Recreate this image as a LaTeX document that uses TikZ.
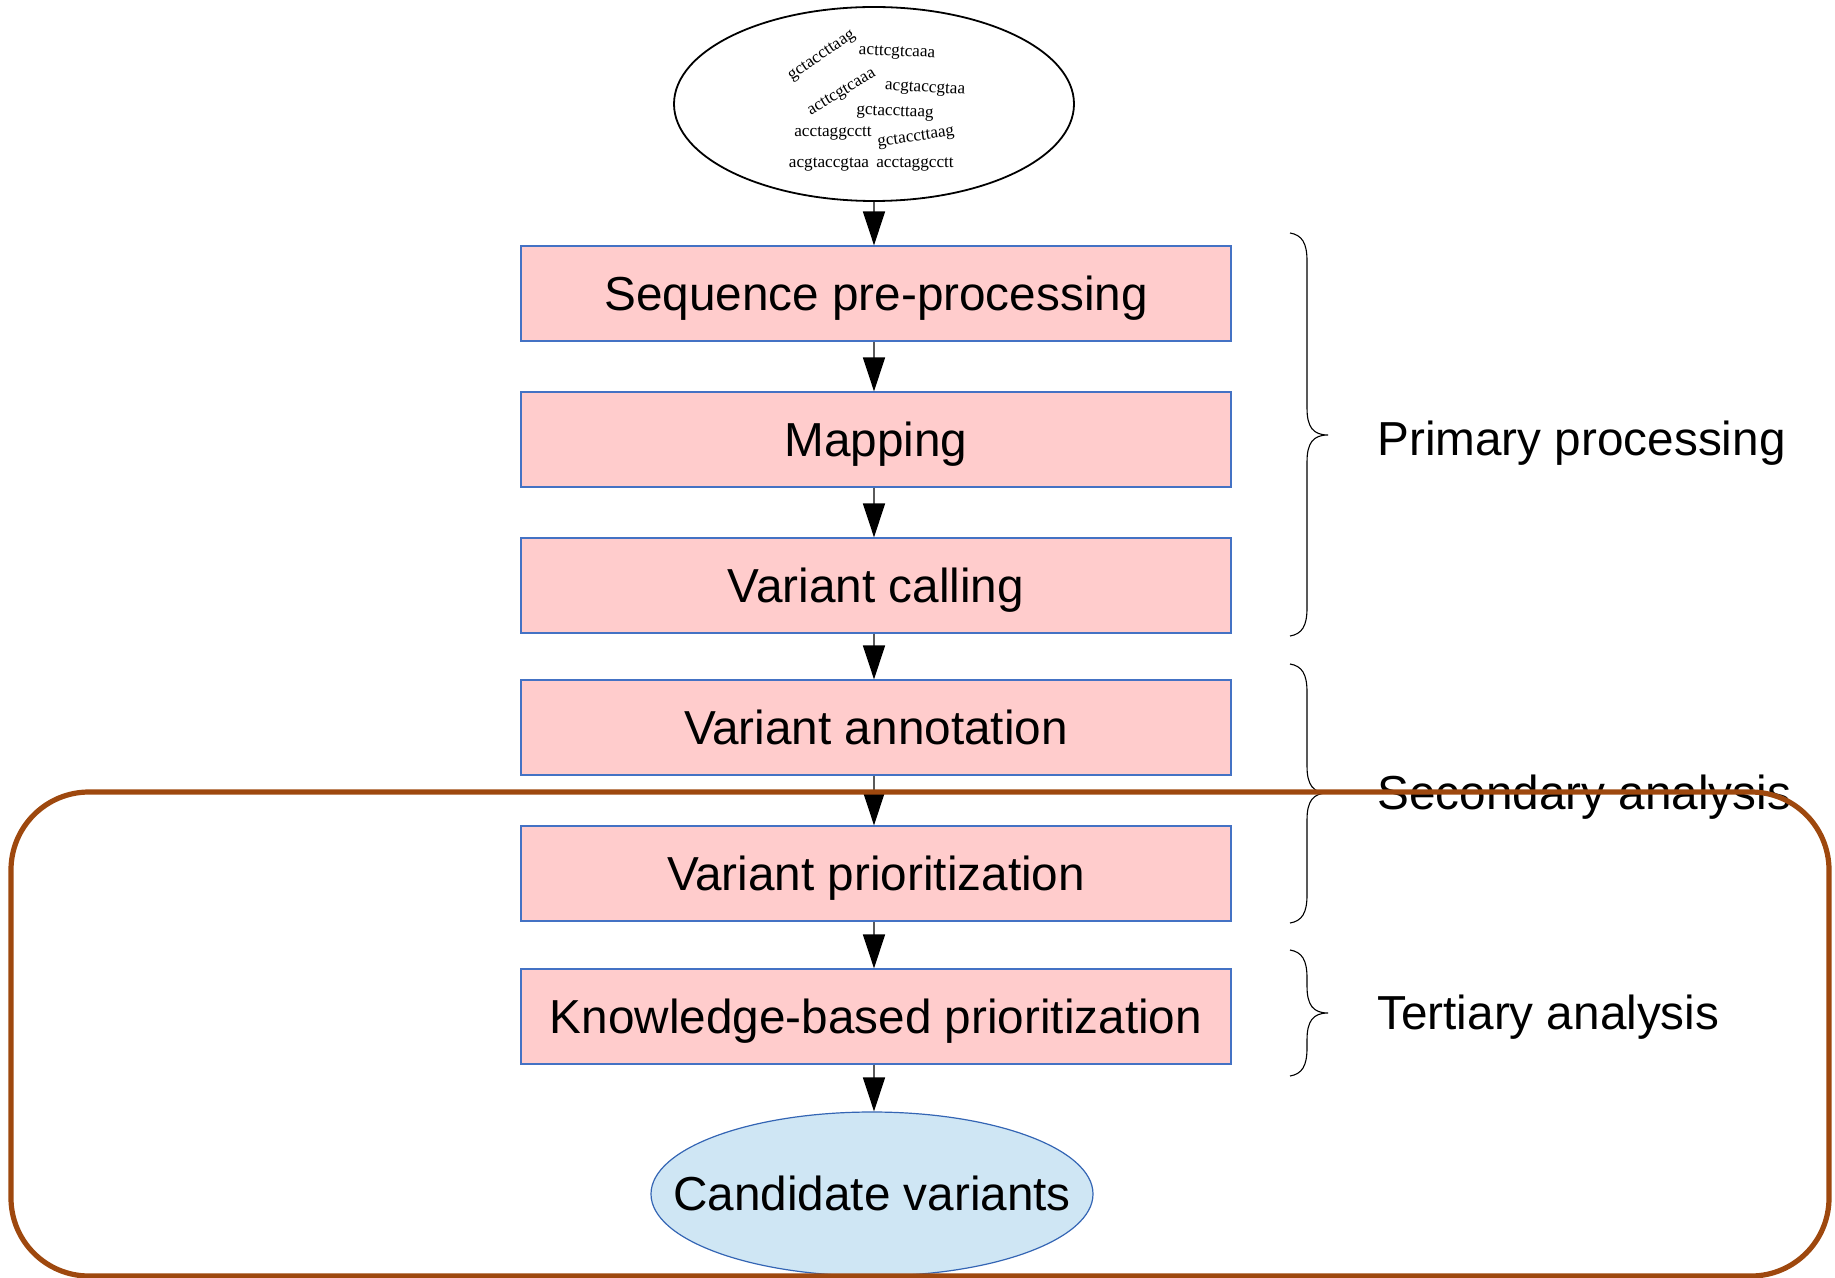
\documentclass[tikz,border=0pt]{standalone}
\usepackage{fontspec}
\setmainfont{Liberation Sans}
\newfontfamily\readfont{Liberation Serif}
\usetikzlibrary{arrows.meta,shapes.geometric}

\definecolor{boxfill}{RGB}{255,204,204}
\definecolor{boxline}{RGB}{68,114,196}
\definecolor{candfill}{RGB}{207,230,244}
\definecolor{candline}{RGB}{52,101,180}
\definecolor{frameline}{RGB}{158,72,14}
\definecolor{arrowline}{RGB}{90,90,90}

% right-pointing curly brace: top y, tip y, bottom y
\newcommand\sidebrace[3]{%
  \draw[bracestyle] (1290,#1) .. controls (1302,{#1+2}) and (1307,{#1+10}) .. (1307,{#1+28})
    -- (1307,{#2-27}) .. controls (1307,{#2-8}) and (1313,#2) .. (1328,#2)
    .. controls (1313,#2) and (1307,{#2+8}) .. (1307,{#2+27})
    -- (1307,{#3-28}) .. controls (1307,{#3-10}) and (1302,{#3-2}) .. (1290,#3);}

\begin{document}
\begin{tikzpicture}[x=0.5pt,y=-0.5pt,
  bigtext/.style={font=\fontsize{23.85}{28}\selectfont, text height=21.6pt, text depth=5.06pt},
  stepbox/.style={rectangle, draw=boxline, line width=0.6pt, fill=boxfill,
    minimum width=355pt, minimum height=47.5pt, inner sep=0pt, bigtext},
  flow/.style={draw=arrowline, line width=0.8pt, -{Triangle[width=11pt,length=17pt,color=black]}},
  bracestyle/.style={draw=black, line width=0.55pt},
  phase/.style={anchor=base west, inner sep=0pt, font=\fontsize{23.85}{28}\selectfont},
  read/.style={inner sep=0pt, font=\readfont\fontsize{8.6}{9}\selectfont, text=black}]

\useasboundingbox (0,0) rectangle (1835,1278);

% axis of the flow
\coordinate (ax) at (874,0);

% input reads
\node[ellipse, draw=black, line width=0.9pt, minimum width=200pt, minimum height=97pt, inner sep=0pt] (reads) at (874,104) {};
\node[read, rotate=34] (r1) at (822,56) {gctaccttaag};
\node[read, rotate=-2] (r2) at (897,53) {acttcgtcaaa};
\node[read, rotate=31] (r3) at (842,93) {acttcgtcaaa};
\node[read, rotate=-3] (r4) at (925,89) {acgtaccgtaa};
\node[read, rotate=-2] (r5) at (895,113) {gctaccttaag};
\node[read] (r6) at (833,134) {acctaggcctt};
\node[read, rotate=8] (r7) at (916,138) {gctaccttaag};
\node[read] (r8) at (829,165) {acgtaccgtaa};
\node[read] (r9) at (915,165) {acctaggcctt};

% pipeline steps
\node[stepbox] (b1) at (876,293.5) {Sequence pre-processing};
\node[stepbox] (b2) at (876,439.5) {Mapping};
\node[stepbox] (b3) at (876,585.5) {Variant calling};
\node[stepbox] (b4) at (876,727.5) {Variant annotation};
\node[stepbox] (b5) at (876,873.5) {Variant prioritization};
\node[stepbox] (b6) at (876,1016.5) {Knowledge-based prioritization};

% result
\node[ellipse, draw=candline, line width=0.6pt, fill=candfill, minimum width=221pt, minimum height=82pt, inner sep=0pt] (cand) at (872,1194) {};
\node[bigtext, inner sep=0pt] (candtext) at (cand.center) {Candidate variants};

% connectors
\draw[flow] (reads.south -| ax) -- (b1.north -| ax);
\draw[flow] (b1.south -| ax) -- (b2.north -| ax);
\draw[flow] (b2.south -| ax) -- (b3.north -| ax);
\draw[flow] (b3.south -| ax) -- (b4.north -| ax);
\draw[flow] (b4.south -| ax) -- (b5.north -| ax);
\draw[flow] (b5.south -| ax) -- (b6.north -| ax);
\draw[flow] (b6.south -| ax) -- (cand.north -| ax);

% phase braces and labels
\sidebrace{233}{435}{636}
\sidebrace{664}{793}{923}
\sidebrace{950}{1013}{1076}
\node[phase] (p1) at (1377,455) {Primary processing};
\node[phase] (p2) at (1377,809) {Secondary analysis};
\node[phase] (p3) at (1377,1029) {Tertiary analysis};

% highlight frame
\draw[draw=frameline, line width=2.6pt, rounded corners=39pt] (11,792) rectangle (1829,1276);

\end{tikzpicture}
\end{document}
